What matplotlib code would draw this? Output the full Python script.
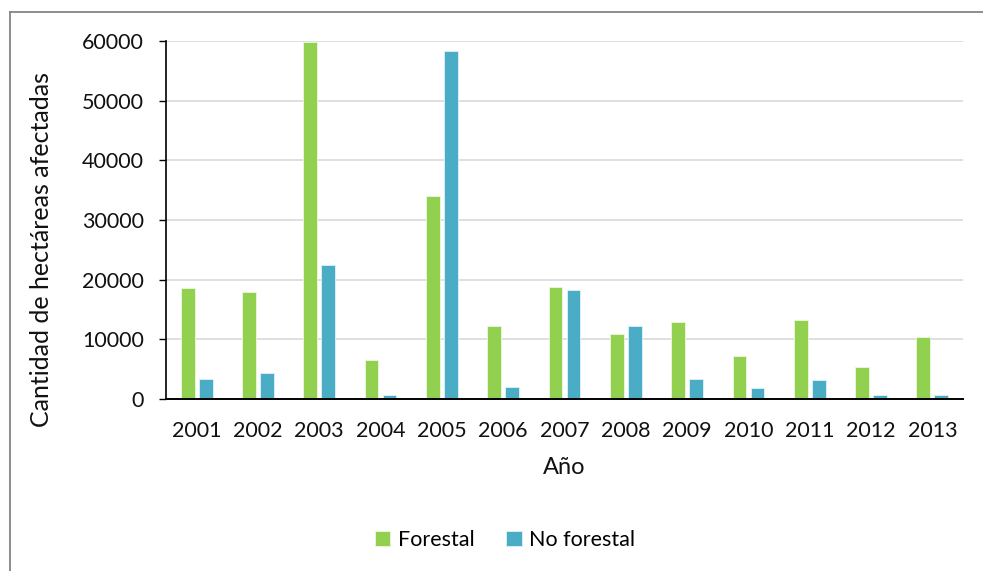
import matplotlib
matplotlib.use("Agg")
import matplotlib.pyplot as plt
import numpy as np
from matplotlib.lines import Line2D

years = ["2001", "2002", "2003", "2004", "2005", "2006", "2007",
         "2008", "2009", "2010", "2011", "2012", "2013"]
forestal = [18600, 17850, 59850, 6600, 34100, 12300, 18700,
            10950, 12900, 7200, 13250, 5350, 10400]
no_forestal = [3300, 4350, 22450, 700, 58400, 1950, 18350,
               12200, 3400, 1850, 3150, 750, 600]

GREEN = "#92D050"
BLUE = "#4BACC6"
W, H = 983, 571

plt.rcParams["font.family"] = ["Lato", "DejaVu Sans"]

fig = plt.figure(figsize=(W / 100, H / 100), dpi=100)
ax = fig.add_axes([166 / W, 1 - 399 / H, (963 - 166) / W, (399 - 41) / H])

x = np.arange(len(years))
bw = 0.225
ax.bar(x - 0.147, forestal, bw, color=GREEN, edgecolor="#e8f5d8", linewidth=0.7,
       label="Forestal", zorder=3)
ax.bar(x + 0.147, no_forestal, bw, color=BLUE, edgecolor="#d8eef4", linewidth=0.7,
       label="No forestal", zorder=3)

ax.set_xlim(-0.5, len(years) - 0.5)
ax.set_ylim(0, 60000)
ax.set_yticks(range(0, 60001, 10000))
ax.set_xticks(x)
ax.set_xticklabels(years)
ax.grid(axis="y", color="#d9d9d9", linewidth=1.2, zorder=0)
ax.tick_params(axis="y", length=5, width=1, direction="out", pad=11, labelsize=15.5,
               labelcolor="#111111")
ax.tick_params(axis="x", length=0, pad=16, labelsize=15.5, labelcolor="#111111")
for side in ("top", "right"):
    ax.spines[side].set_visible(False)
ax.spines["left"].set_linewidth(1.2)
ax.spines["bottom"].set_linewidth(1.4)
ax.spines["left"].set_zorder(4)
ax.spines["bottom"].set_zorder(4)

ax.set_ylabel("Cantidad de hectáreas afectadas", fontsize=18, color="#111111")
ax.yaxis.set_label_coords((53 - 166) / (963 - 166), 1 - (249 - 41) / (399 - 41))
ax.set_xlabel("Año", fontsize=17, va="center", color="#111111")
ax.xaxis.set_label_coords(0.5, (399 - 468) / (399 - 41))

fig.legend(loc="center", bbox_to_anchor=(505 / W, 1 - 540 / H), ncol=2, frameon=False,
           fontsize=15.5, handlelength=0.7, handleheight=0.7, handletextpad=0.35,
           columnspacing=1.5)

# chart border (left and top edges visible)
fig.add_artist(Line2D([9.5 / W, 9.5 / W], [0, 1 - 11.5 / H], transform=fig.transFigure,
                      color="#858585", linewidth=1.3))
fig.add_artist(Line2D([9.5 / W, 1], [1 - 11.5 / H, 1 - 11.5 / H], transform=fig.transFigure,
                      color="#858585", linewidth=1.3))

fig.savefig("out.png", dpi=100, facecolor="white")
